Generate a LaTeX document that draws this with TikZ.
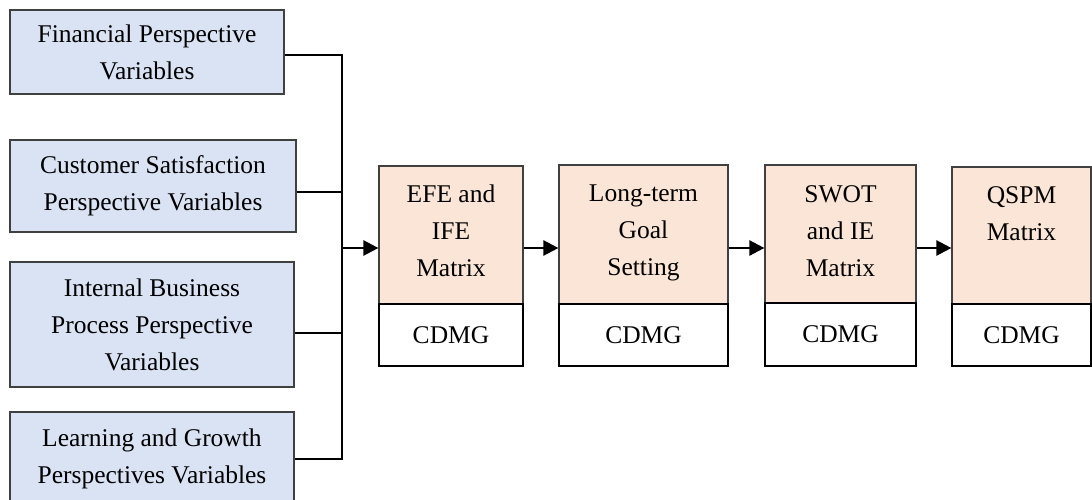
\documentclass[tikz,border=0pt]{standalone}
\usepackage{fontspec}
\setmainfont{Liberation Serif}
\usetikzlibrary{arrows.meta,calc}
\definecolor{blueF}{HTML}{DAE3F3}
\definecolor{orangeF}{HTML}{FBE5D6}
\definecolor{edge}{HTML}{404040}
\begin{document}
\begin{tikzpicture}[x=1pt,y=-1pt,
  txt/.style={align=center, inner sep=0pt, font=\fontsize{25.5}{37}\selectfont},
  lbox/.style={draw=edge, fill=blueF, line width=1.2pt, inner sep=0pt, txt},
  ubox/.style={draw=edge, fill=orangeF, line width=1.2pt, inner sep=0pt},
  cbox/.style={draw=black, fill=white, line width=1.2pt, inner sep=0pt, txt},
  conn/.style={draw=black, line width=1.2pt},
  arr/.style={draw=black, line width=2.5pt, -{Triangle[length=15pt,width=15pt]}}]
\useasboundingbox (0,0) rectangle (1092,500);
\clip (0,0) rectangle (1092,500);
% left boxes
\node[lbox, minimum width=274pt, minimum height=84pt] (b1) at (147,52) {Financial Perspective\\Variables};
\node[lbox, minimum width=286pt, minimum height=92pt] (b2) at (153,186) {Customer Satisfaction\\Perspective Variables};
\node[lbox, minimum width=284pt, minimum height=125pt] (b3) at (152,324.5) {Internal Business\\Process Perspective\\Variables};
\node[lbox, minimum width=284pt, minimum height=94pt] (b4) at (152,459) {Learning and Growth\\Perspectives Variables};
% right boxes
\node[ubox, minimum width=144pt, minimum height=138pt] (e1) at (451,235) {};
\node[txt, anchor=north] (e1t) at (451,185) {EFE and\\IFE\\Matrix};
\node[cbox, minimum width=144pt, minimum height=62pt] (c1) at (451,335) {CDMG};
\node[ubox, minimum width=169pt, minimum height=139pt] (e2) at (643.5,234.5) {};
\node[txt, anchor=north] (e2t) at (643.5,185) {Long-term\\Goal\\Setting};
\node[cbox, minimum width=169pt, minimum height=62pt] (c2) at (643.5,335) {CDMG};
\node[ubox, minimum width=151pt, minimum height=138pt] (e3) at (840.5,234) {};
\node[txt, anchor=north] (e3t) at (840.5,185) {SWOT\\and IE\\Matrix};
\node[cbox, minimum width=151pt, minimum height=63pt] (c3) at (840.5,334.5) {CDMG};
\node[ubox, minimum width=139pt, minimum height=137pt] (e4) at (1021.5,235.5) {};
\node[txt, anchor=north] (e4t) at (1021.5,186) {QSPM\\Matrix};
\node[cbox, minimum width=139pt, minimum height=62pt] (c4) at (1021.5,335) {CDMG};
% connectors
\coordinate (bus) at (342,248);
\draw[conn] ($(b1.east)+(0,3)$) -| (bus);
\draw[conn] ($(b2.east)+(0,6)$) -| (bus);
\draw[conn] ($(b3.east)+(0,8.5)$) -| (bus);
\draw[conn] (b4.east) -| (bus);
\draw[arr] (bus) -- (e1.west |- bus);
\draw[arr] (e1.east |- bus) -- (e2.west |- bus);
\draw[arr] (e2.east |- bus) -- (e3.west |- bus);
\draw[arr] (e3.east |- bus) -- (e4.west |- bus);
\end{tikzpicture}
\end{document}
